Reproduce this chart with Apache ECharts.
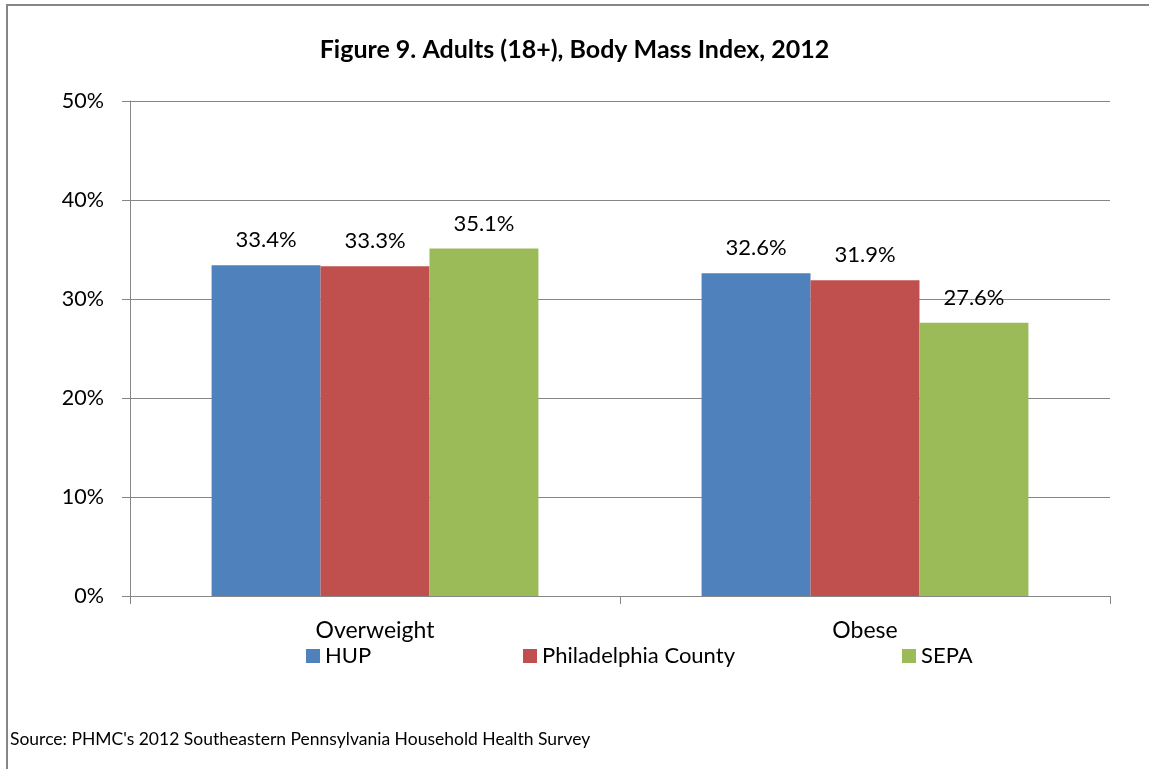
<!DOCTYPE html>
<html>
<head>
<meta charset="utf-8">
<script src="https://cdn.jsdelivr.net/npm/echarts@6/dist/echarts.min.js"></script>
<style>
  html, body { margin: 0; padding: 0; background: #fff; }
  #chart { width: 1149px; height: 769px; }
</style>
</head>
<body>
<div id="chart"></div>
<script>
const categories = ['Overweight', 'Obese']
const seriesNames = ['HUP', 'Philadelphia County', 'SEPA']
const hup = [33.4, 32.6]
const philadelphia = [33.3, 31.9]
const sepa = [35.1, 27.6]
const colors = ['#4F81BD', '#C0504D', '#9BBB59']

const font = 'Lato, "Open Sans", sans-serif'
const gray = '#868686'

const chart = echarts.init(document.getElementById('chart'))

const makeSeries = (name, data, color) => ({
  name: name,
  type: 'bar',
  data: data,
  barGap: '0%',
  barCategoryGap: '33.3%',
  itemStyle: {color: color},
  label: {
    show: true,
    position: 'top',
    distance: 14,
    color: '#000',
    fontFamily: font,
    fontSize: 22,
    formatter: (p) => p.value.toFixed(1) + '%',
  },
})

const legendAt = (name, left) => ({
  data: [name],
  left: left,
  top: 645,
  padding: 0,
  itemGap: 6,
  itemWidth: 14,
  itemHeight: 14,
  icon: 'rect',
  textStyle: {fontFamily: font, fontSize: 22, color: '#000'},
})

chart.setOption({
  animation: false,
  title: {
    text: 'Figure 9. Adults (18+), Body Mass Index, 2012',
    left: 'center',
    top: 32,
    textStyle: {fontFamily: font, fontSize: 25, fontWeight: 'bold', color: '#000'},
  },
  graphic: [
    {
      type: 'rect',
      shape: {x: 7, y: 5, width: 1160, height: 800},
      style: {fill: 'none', stroke: gray, lineWidth: 2},
    },
    {
      type: 'text',
      left: 10,
      top: 730,
      style: {
        text: "Source: PHMC's 2012 Southeastern Pennsylvania Household Health Survey",
        font: '17.5px ' + font,
        fill: '#000',
      },
    },
  ],
  legend: [
    legendAt(seriesNames[0], 306),
    legendAt(seriesNames[1], 523),
    legendAt(seriesNames[2], 902),
  ],
  grid: {left: 130, right: 39, top: 101, bottom: 173},
  xAxis: {
    type: 'category',
    data: categories,
    axisLine: {lineStyle: {color: gray, width: 1}},
    axisTick: {show: true, length: 8, lineStyle: {color: gray}},
    axisLabel: {fontFamily: font, fontSize: 23, color: '#000', margin: 23},
  },
  yAxis: {
    type: 'value',
    min: 0,
    max: 50,
    interval: 10,
    axisLine: {show: true, lineStyle: {color: gray, width: 1}},
    axisTick: {show: true, length: 8, lineStyle: {color: gray}},
    splitLine: {lineStyle: {color: gray, width: 1}},
    axisLabel: {fontFamily: font, fontSize: 21.5, color: '#000', margin: 26, formatter: '{value}%'},
  },
  series: [
    makeSeries(seriesNames[0], hup, colors[0]),
    makeSeries(seriesNames[1], philadelphia, colors[1]),
    makeSeries(seriesNames[2], sepa, colors[2]),
  ],
})
</script>
</body>
</html>
